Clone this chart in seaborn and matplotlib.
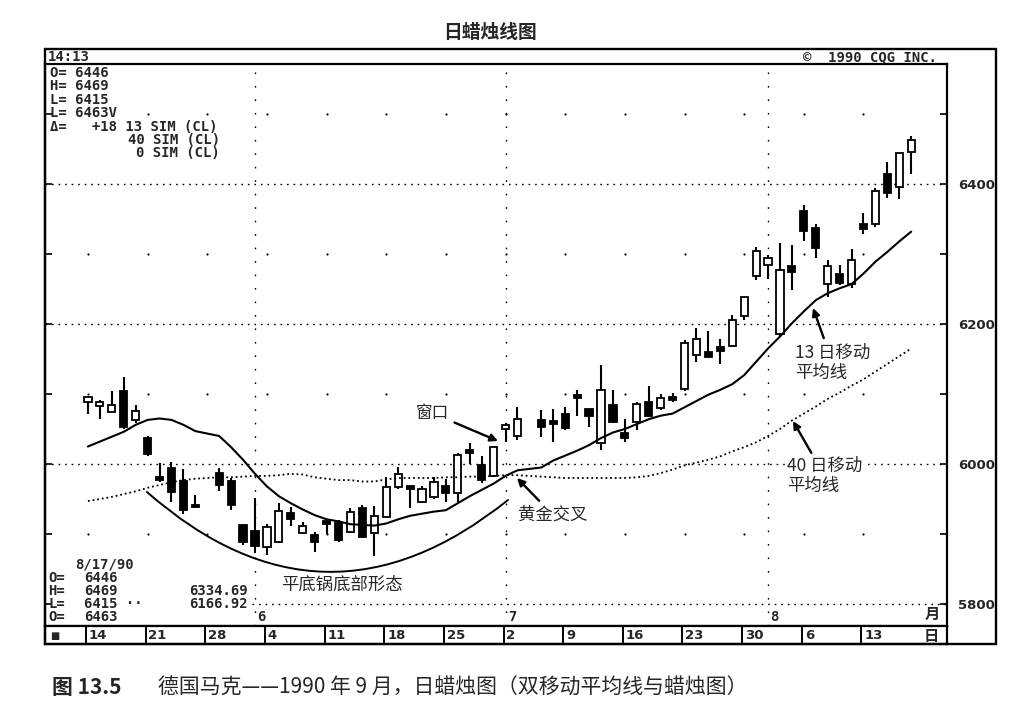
# 日蜡烛线图 —— 德国马克 1990 年 9 月合约, 13 日 / 40 日移动平均线
import numpy as np
import pandas as pd
import seaborn as sns
import matplotlib.pyplot as plt
from matplotlib.patches import Rectangle

# 交易日: 5/14 - 8/17 (5/28 和 7/4 休市)
all_days = pd.bdate_range('1990-05-14', '1990-08-17')
holidays = pd.to_datetime(['1990-05-28', '1990-07-04'])
trade_days = all_days[~all_days.isin(holidays)]

opens = [6089, 6083, 6075, 6105, 6063, 6037, 5979, 5995, 5976, 5940,
         5987, 5976, 5913, 5905, 5882, 5889, 5930, 5901, 5898, 5916,
         5915, 5903, 5937, 5902, 5924, 5967, 5966, 5946, 5953, 5969,
         5958, 6018, 5999, 5983, 6050, 6040,
         6063, 6060, 6072, 6096, 6078, 6030, 6084, 6044, 6060, 6089,
         6080, 6096, 6107, 6156, 6160, 6167, 6168, 6212, 6269, 6284,
         6186, 6283, 6362, 6337, 6257, 6272, 6257, 6343, 6343, 6414,
         6396, 6446]
highs = [6097, 6091, 6105, 6124, 6084, 6040, 6001, 6003, 5993, 5956,
         5995, 5980, 5914, 5952, 5914, 5944, 5939, 5917, 5903, 5919,
         5920, 5937, 5942, 5940, 5982, 5996, 5967, 5968, 5981, 5979,
         6016, 6030, 6011, 6026, 6058, 6082,
         6077, 6078, 6082, 6106, 6079, 6141, 6106, 6065, 6089, 6111,
         6100, 6101, 6177, 6195, 6190, 6178, 6213, 6239, 6310, 6299,
         6316, 6313, 6370, 6343, 6292, 6284, 6307, 6359, 6394, 6432,
         6445, 6469]
lows = [6072, 6065, 6074, 6050, 6059, 6011, 5975, 5946, 5929, 5937,
        5962, 5934, 5884, 5873, 5870, 5887, 5912, 5900, 5875, 5900,
        5888, 5901, 5894, 5869, 5924, 5964, 5937, 5945, 5950, 5946,
        5946, 6000, 5973, 5982, 6032, 6034,
        6039, 6032, 6048, 6068, 6053, 6020, 6058, 6032, 6049, 6067,
        6077, 6088, 6105, 6146, 6151, 6143, 6167, 6206, 6263, 6265,
        6182, 6249, 6319, 6294, 6238, 6256, 6252, 6329, 6339, 6380,
        6378, 6415]
closes = [6096, 6088, 6084, 6053, 6076, 6015, 5977, 5960, 5934, 5938,
          5970, 5941, 5889, 5883, 5910, 5933, 5921, 5912, 5888, 5914,
          5892, 5932, 5896, 5926, 5967, 5985, 5964, 5965, 5974, 5958,
          6013, 6016, 5977, 6025, 6056, 6064,
          6053, 6057, 6051, 6094, 6068, 6106, 6060, 6037, 6086, 6068,
          6094, 6092, 6173, 6178, 6153, 6162, 6206, 6238, 6305, 6295,
          6277, 6275, 6333, 6308, 6283, 6259, 6291, 6336, 6390, 6387,
          6444, 6463]

# 移动平均线
ma13 = [6025, 6032, 6039, 6046, 6056, 6063, 6065, 6063, 6056, 6047,
        6040, 6024, 6006, 5986, 5968, 5954, 5944, 5935, 5927, 5921,
        5918, 5914, 5913, 5912, 5915, 5921, 5926, 5929, 5932, 5934,
        5944, 5954, 5963, 5972, 5983, 5991,
        5995, 6005, 6012, 6019, 6027, 6037, 6045, 6050, 6057, 6064,
        6069, 6072, 6081, 6090, 6099, 6106, 6114, 6127, 6146, 6165,
        6182, 6201, 6218, 6234, 6244, 6251, 6257, 6272, 6289, 6303,
        6318, 6332]
ma40 = [5947, 5950, 5953, 5957, 5961, 5966, 5970, 5974, 5977, 5979,
        5981, 5981, 5982, 5983, 5983, 5984, 5986, 5985, 5981, 5979,
        5977, 5977, 5975, 5975, 5978, 5980, 5980, 5980, 5980, 5981,
        5981, 5982, 5982, 5983, 5984, 5984,
        5982, 5981, 5980, 5980, 5980, 5980, 5980, 5980, 5981, 5983,
        5987, 5992, 5998, 6002, 6006, 6011, 6018, 6024, 6031, 6040,
        6050, 6062, 6072, 6082, 6093, 6102, 6112, 6121, 6132, 6143,
        6154, 6165]

week_labels = ['14', '21', '28', '4', '11', '18', '25', '2', '9', '16', '23', '30', '6', '13']
month_labels = ['6', '7', '8']
price_labels = [5800, 6000, 6200, 6400]
minor_levels = [5900, 6100, 6300, 6500]

sns.set_theme(style='white')
plt.rcParams['font.family'] = ['Noto Sans CJK SC', 'DejaVu Sans']
MONO = ['DejaVu Sans Mono', 'DejaVu Sans']

W, H = 1025, 710
fig = plt.figure(figsize=(W / 100, H / 100), dpi=100)
fig.patch.set_facecolor('white')


def fx(p):  # 像素 -> figure 坐标
    return p / W


def fy(p):
    return 1 - p / H


# 像素 -> 数据坐标 (只用于文字和箭头的位置)
def dx(px):
    return (px - 88) / 11.93


def dy(py):
    return 6000 + (464 - py) / 0.70


ax = fig.add_axes([fx(45), fy(626), fx(947) - fx(45), fy(64) - fy(626)])
strip = fig.add_axes([fx(45), fy(644), fx(947) - fx(45), fy(626) - fy(644)])

x = all_days.get_indexer(trade_days)
o = np.array(opens); h = np.array(highs); l = np.array(lows); c = np.array(closes)
up = c >= o

# 网格: 密点线 (200 一格) + 稀疏点
for lv in price_labels[1:]:
    ax.axhline(lv, color='black', lw=1.0, linestyle=(0, (1.2, 3.5)), zorder=1)
ax.hlines(5800, dx(252), 72.0, color='black', lw=1.0, linestyle=(0, (1.2, 3.5)), zorder=1)
month_first = [all_days.get_loc(trade_days[trade_days.month == m][0]) for m in (6, 7, 8)]
for mx, lab in zip(month_first, month_labels):
    ax.axvline(mx, color='black', lw=1.0, linestyle=(0, (1.2, 8.5)), zorder=1)
    ax.text(mx + 0.2, dy(617), lab, ha='left', va='center', fontsize=10,
            fontweight='bold', family=MONO)
mondays = np.arange(0, len(all_days), 5)
gx, gy = np.meshgrid(mondays, minor_levels)
ax.scatter(gx.ravel(), gy.ravel(), s=2.5, color='black', linewidths=0, zorder=1)

# 蜡烛
ax.vlines(x, l, h, color='black', lw=1.5, zorder=2)
body_lo = np.minimum(o, c)
body_h = np.maximum(np.abs(c - o), 4)
ax.bar(x, body_h, bottom=body_lo, width=0.6, color=np.where(up, 'white', 'black'),
       edgecolor='black', linewidth=1.3, zorder=3)

# 移动平均线
sns.lineplot(x=x, y=ma13, color='black', lw=1.5, ax=ax, zorder=4)
sns.lineplot(x=x, y=ma40, color='black', lw=1.3, linestyle=(0, (1, 1.6)), ax=ax, zorder=4)

ax.set_xlim(-3.6, 72.0)
ax.set_ylim(dy(626), dy(64))
ax.set_xticks([])
ax.set_yticks(price_labels)
ax.set_yticklabels([str(v) for v in price_labels])
ax.set_yticks(minor_levels, minor=True)
ax.yaxis.tick_right()
ax.tick_params(axis='y', which='both', left=True, right=True, direction='in',
               length=5, width=1.2, color='black', pad=8, labelsize=9.5)
for t in ax.get_yticklabels():
    t.set_fontweight('bold')
    t.set_family(['DejaVu Sans'])
ax.set_xlabel(''); ax.set_ylabel('')
for s in ax.spines.values():
    s.set_color('black'); s.set_linewidth(1.6)

# 注释
arrow = dict(arrowstyle='-|>', color='black', lw=1.7, mutation_scale=11, shrinkA=2, shrinkB=0)
ax.annotate('窗口', xy=(dx(498), dy(441)), xytext=(dx(432), dy(413)), ha='center',
            va='center', fontsize=12, arrowprops=arrow)
ax.annotate('黄金交叉', xy=(dx(517), dy(478)), xytext=(dx(553), dy(515)), ha='center',
            va='center', fontsize=12.5, arrowprops=arrow)
ax.annotate('13 日移动\n平均线', xy=(dx(813), dy(308)), xytext=(dx(795), dy(363)),
            ha='left', va='center', fontsize=12.5, linespacing=1.15, arrowprops=arrow)
ax.annotate('40 日移动\n平均线', xy=(dx(793), dy(421)), xytext=(dx(787), dy(476)),
            ha='left', va='center', fontsize=12.5, linespacing=1.15, arrowprops=arrow,
            bbox=dict(boxstyle='square,pad=0.1', fc='white', ec='none'))
ax.annotate('', xy=(dx(508), dy(500)), xytext=(dx(147), dy(492)),
            arrowprops=dict(arrowstyle='-', color='black', lw=1.4,
                            connectionstyle='arc3,rad=0.42', shrinkA=0, shrinkB=0))
ax.text(dx(342), dy(585), '平底锅底部形态', ha='center', va='center', fontsize=12.5)
ax.text(dx(932), dy(614), '月', ha='center', va='center', fontsize=11, fontweight='bold')

# 日期栏
strip.set_xlim(-3.6, 72.0)
strip.set_ylim(0, 1)
strip.set_xticks([]); strip.set_yticks([])
for s in strip.spines.values():
    s.set_color('black'); s.set_linewidth(1.6)
strip.vlines(mondays - 0.17, 0, 1, color='black', lw=1.4)
for m, lab in zip(mondays, week_labels):
    strip.text(m + 0.07, 0.45, lab, ha='left', va='center', fontsize=9.5,
               fontweight='bold', family=['DejaVu Sans'])
strip.text(0.006, 0.45, '■', transform=strip.transAxes, ha='left', va='center',
           fontsize=7, family=['DejaVu Sans'])
strip.text(0.983, 0.45, '日', transform=strip.transAxes, ha='center', va='center',
           fontsize=11, fontweight='bold')

# 外框与抬头
fig.add_artist(Rectangle((fx(45), fy(644)), fx(996) - fx(45), fy(49) - fy(644),
                         transform=fig.transFigure, fill=False, ec='black', lw=1.7))
kw = dict(fontsize=10, fontweight='bold', family=MONO, va='center')
fig.text(fx(48), fy(57), '14:13', ha='left', **kw)
fig.text(fx(937), fy(57), '©  1990 CQG INC.', ha='right', **kw)

# 左上角数据
info_top = ['O= 6446', 'H= 6469', 'L= 6415', 'L= 6463V', 'Δ=   +18 13 SIM (CL)']
for i, s in enumerate(info_top):
    fig.text(fx(50), fy(73 + 13.4 * i), s, ha='left', **kw)
fig.text(fx(220), fy(140), '40 SIM (CL)', ha='right', **kw)
fig.text(fx(220), fy(153), '0 SIM (CL)', ha='right', **kw)

# 左下角数据
fig.text(fx(75), fy(565), '8/17/90', ha='left', **kw)
info_bot = [('O=', '6446'), ('H=', '6469'), ('L=', '6415 ··'), ('O=', '6463')]
for i, (k, v) in enumerate(info_bot):
    fig.text(fx(48), fy(578 + 13 * i), k, ha='left', **kw)
    fig.text(fx(84), fy(578 + 13 * i), v, ha='left', **kw)
fig.text(fx(189), fy(591), '6334.69', ha='left', **kw)
fig.text(fx(189), fy(604), '6166.92', ha='left', **kw)

# 标题与图注
fig.text(fx(490), fy(33), '日蜡烛线图', ha='center', va='center', fontsize=13.5, fontweight='bold')
fig.text(fx(52), fy(688), '图 13.5', ha='left', va='center', fontsize=15, fontweight='bold')
fig.text(fx(158), fy(688), '德国马克——1990 年 9 月，日蜡烛图（双移动平均线与蜡烛图）',
         ha='left', va='center', fontsize=15)

fig.savefig('out.png', dpi=100, facecolor='white')
